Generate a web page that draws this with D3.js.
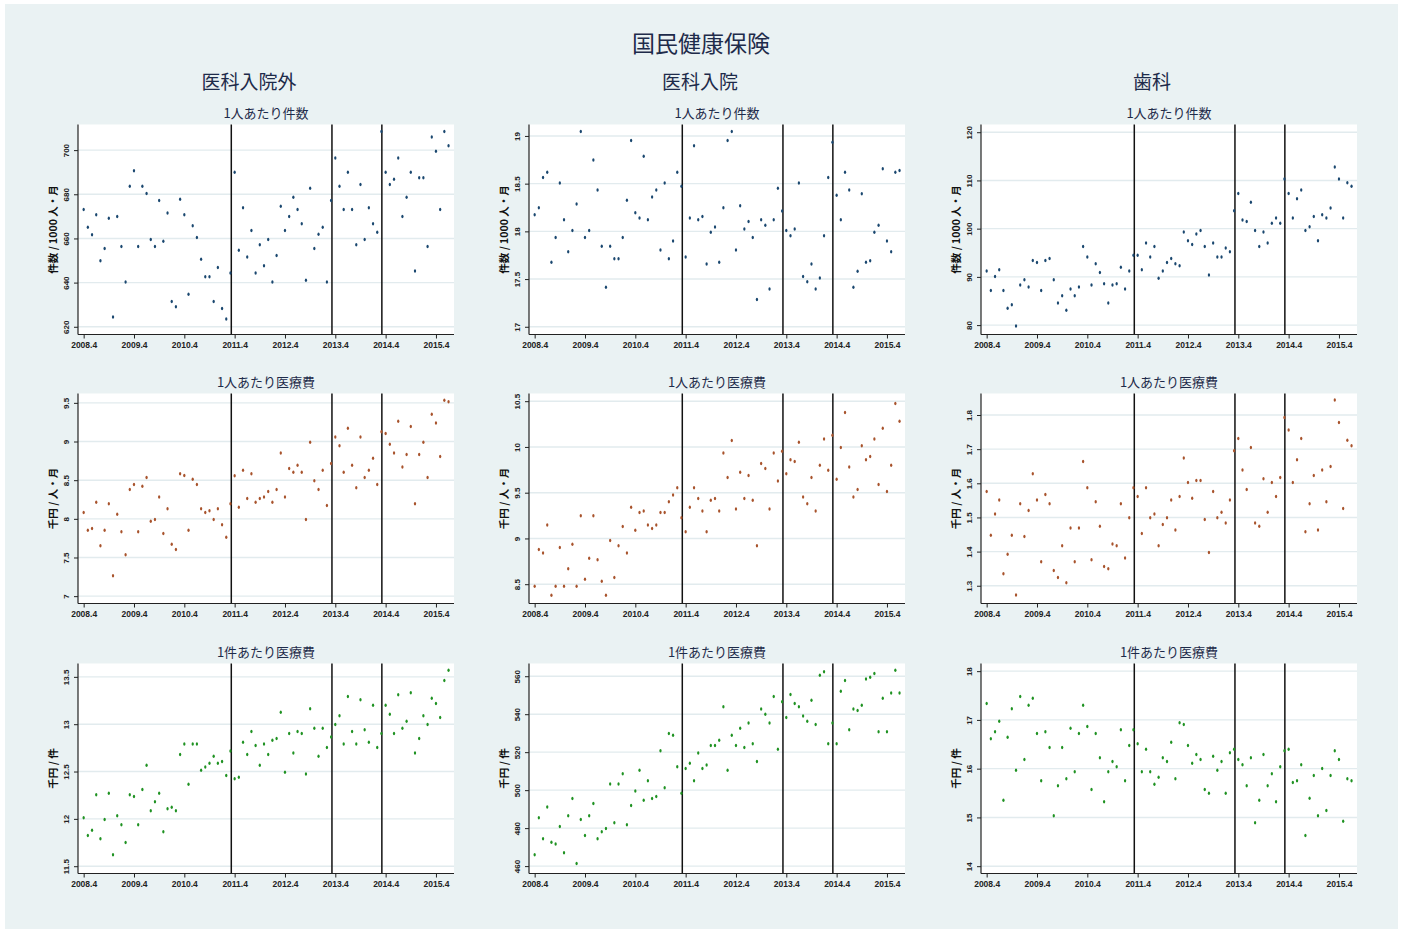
<!DOCTYPE html>
<html><head><meta charset="utf-8">
<script src="https://cdn.jsdelivr.net/npm/d3@7"></script>
<style>body{margin:0;background:#fff} svg{display:block}</style>
</head><body><svg id="c" width="1403" height="933"></svg>
<script>
const mainTitle = "国民健康保険";
const columns = ["医科入院外", "医科入院", "歯科"];
const rowTitles = ["1人あたり件数", "1人あたり医療費", "1件あたり医療費"];
const rowUnits = ["件数 / 1000 人・月", "千円 / 人・月", "千円 / 件"];
// monthly observations starting April 2008 (month index 0 = 2008.4)
const xTickMonths = [0, 12, 24, 36, 48, 60, 72, 84];
const xTickLabels = ["2008.4", "2009.4", "2010.4", "2011.4", "2012.4", "2013.4", "2014.4", "2015.4"];
const eventMonths = [35.2, 59.2, 71.1];

const outpatientCount = [673.1,665.1,661.7,670.7,649.9,655.5,669.2,624.4,669.9,656.3,
640.3,683.6,690.7,656.4,683.6,680.3,659.5,656.4,677.2,658.7,
671.5,631.5,629.1,677.8,670.7,634.7,665.8,660.4,650.6,642.7,
642.7,631.5,646.8,628.3,623.5,644.3,690.0,654.7,673.9,651.6,
663.6,644.3,657.2,647.6,659.5,640.3,652.3,674.6,663.6,669.9,
678.7,673.1,666.7,641.1,682.7,655.5,661.9,665.1,640.3,677.2,
696.4,683.6,673.1,690.0,673.1,657.2,684.4,659.5,673.9,666.7,
662.8,708.4,690.0,684.4,686.8,696.4,669.9,678.7,690.0,645.2,
687.5,687.5,656.4,705.9,699.5,673.1,708.4,702.0];
const inpatientCount = [18.174,18.248,18.564,18.620,17.675,17.935,18.508,18.121,17.787,18.009,
18.286,19.046,17.935,18.009,18.747,18.434,17.844,17.415,17.844,17.714,
17.714,17.935,18.325,18.951,18.195,18.139,18.786,18.121,18.360,18.434,
17.805,18.508,17.714,17.900,18.620,18.473,17.731,18.139,18.898,18.121,
18.156,17.657,17.991,18.047,17.675,18.248,18.951,19.046,17.805,18.269,
18.026,18.104,17.935,17.285,18.121,18.065,17.397,18.121,18.452,18.213,
18.009,17.953,18.026,18.508,17.527,17.471,17.657,17.397,17.510,17.953,
18.564,18.933,18.378,18.121,18.620,18.434,17.415,17.583,18.395,17.675,
17.692,17.991,18.065,18.656,17.900,17.787,18.620,18.638];
const dentalCount = [91.2,87.2,90.1,91.5,87.2,83.5,84.2,79.8,88.3,89.4,
87.9,93.4,93.0,87.2,93.4,93.8,89.4,84.6,86.1,83.1,
87.5,86.1,87.9,96.3,94.1,88.3,92.7,90.9,88.6,84.6,
88.3,88.6,92.0,87.5,91.2,94.5,94.5,91.5,97.0,94.1,
96.3,89.7,91.2,93.0,93.8,92.7,92.3,99.3,97.5,96.7,
98.9,99.6,96.3,90.4,97.0,94.1,94.1,96.0,95.2,103.7,
107.3,101.8,101.5,105.5,99.6,96.3,99.3,97.0,101.1,102.2,
101.1,110.3,107.3,102.2,106.2,108.0,99.6,100.4,102.5,97.5,
102.9,102.2,104.3,112.8,110.3,102.2,109.5,108.8];
const outpatientCost = [8.082,7.853,7.875,8.216,7.651,7.853,8.194,7.263,8.060,7.832,
7.534,8.379,8.444,7.832,8.422,8.534,7.970,7.991,8.284,7.810,
8.129,7.672,7.603,8.582,8.560,7.853,8.513,8.444,8.129,8.082,
8.103,7.991,8.129,7.922,7.763,8.194,8.556,8.151,8.629,8.263,
8.582,8.216,8.263,8.284,8.353,8.216,8.379,8.853,8.284,8.651,
8.603,8.694,8.603,7.991,8.991,8.491,8.379,8.629,8.172,8.716,
9.060,8.944,8.603,9.172,8.694,8.401,9.060,8.534,8.629,8.784,
8.444,9.125,9.103,8.966,8.853,9.263,8.672,8.832,9.194,8.194,
8.832,8.991,8.534,9.353,9.241,8.806,9.534,9.513];
const inpatientCost = [8.478,8.879,8.842,9.148,8.380,8.478,8.901,8.478,8.668,8.937,
8.478,9.247,8.555,8.784,9.247,8.766,8.533,8.380,8.977,8.573,
8.919,9.130,8.842,9.342,9.090,9.283,9.301,9.148,9.108,9.148,
9.283,9.283,9.400,9.476,9.553,9.225,9.072,9.342,9.553,9.436,
9.301,9.072,9.418,9.436,9.301,9.935,9.666,10.070,9.323,9.724,
9.436,9.688,9.418,8.919,9.819,9.764,9.323,9.935,9.629,9.954,
9.706,9.859,9.841,10.052,9.454,9.378,9.666,9.301,9.801,10.088,
9.746,10.128,9.648,9.994,10.376,9.782,9.454,9.535,10.012,9.859,
9.895,10.088,9.589,10.205,9.513,9.801,10.474,10.281];
const dentalCost = [1.576,1.448,1.510,1.551,1.335,1.392,1.448,1.273,1.540,1.444,
1.520,1.628,1.551,1.370,1.567,1.540,1.345,1.324,1.417,1.309,
1.469,1.370,1.469,1.664,1.587,1.376,1.546,1.474,1.356,1.350,
1.422,1.417,1.540,1.381,1.499,1.587,1.561,1.453,1.587,1.499,
1.510,1.417,1.479,1.499,1.551,1.463,1.561,1.674,1.602,1.556,
1.608,1.608,1.494,1.397,1.576,1.499,1.515,1.484,1.551,1.695,
1.731,1.639,1.582,1.705,1.484,1.474,1.613,1.515,1.602,1.561,
1.617,1.793,1.756,1.602,1.669,1.731,1.458,1.540,1.623,1.463,
1.639,1.546,1.649,1.844,1.778,1.526,1.726,1.710];
const outpatientPerClaim = [12.011,11.824,11.880,12.254,11.789,11.993,12.271,11.620,12.032,11.937,
11.750,12.254,12.236,11.937,12.310,12.567,12.085,12.180,12.271,11.863,
12.106,12.123,12.085,12.680,12.792,12.366,12.792,12.792,12.514,12.549,
12.588,12.662,12.588,12.606,12.458,12.718,12.423,12.440,12.810,12.680,
12.923,12.775,12.567,12.792,12.680,12.831,12.849,13.127,12.493,12.901,
12.697,12.923,12.901,12.475,13.162,12.958,12.662,12.958,12.754,12.866,
12.996,13.088,12.792,13.292,12.923,12.792,13.257,12.940,12.810,13.201,
12.754,12.901,13.201,13.106,12.901,13.310,12.958,13.032,13.331,12.697,
12.849,13.088,12.996,13.275,13.218,13.070,13.461,13.570];
const inpatientPerClaim = [466.0,485.4,474.4,491.1,472.6,471.6,480.9,467.0,486.5,495.6,
461.4,484.6,476.1,486.5,493.0,474.4,478.1,479.8,503.2,482.8,
503.2,508.6,481.8,491.9,499.5,510.5,494.7,504.9,495.6,496.7,
520.7,501.2,529.8,528.9,512.3,498.4,511.4,514.2,504.9,519.6,
511.4,513.3,523.5,523.5,526.3,543.9,510.5,528.9,523.5,532.6,
522.5,535.4,524.4,515.1,542.8,540.0,535.4,549.3,521.6,546.5,
538.2,550.4,545.6,543.9,539.1,536.3,547.4,534.6,560.5,562.3,
524.4,535.4,524.4,552.1,557.7,531.8,542.8,541.9,544.7,558.6,
559.5,561.4,530.7,548.4,530.7,551.2,563.2,551.2];
const dentalPerClaim = [17.337,16.612,16.756,16.974,15.354,16.646,17.227,15.969,17.480,16.188,
17.303,17.446,16.721,15.750,16.756,16.434,15.032,15.648,16.434,15.791,
16.831,15.935,16.721,17.303,16.865,15.573,16.721,16.222,15.320,15.935,
16.147,16.038,16.797,15.750,16.475,16.797,16.509,15.935,16.400,15.935,
15.682,15.826,16.222,16.147,16.544,15.791,16.940,16.906,16.475,16.113,
16.291,16.188,15.573,15.497,16.256,15.969,16.147,15.497,16.325,16.400,
16.188,16.079,15.648,16.222,14.889,15.354,16.291,15.648,15.894,15.320,
16.038,16.366,16.400,15.716,15.750,16.079,14.629,15.395,15.860,15.032,
16.003,15.142,15.860,16.366,16.188,14.923,15.791,15.750];

const seriesGrid = [
  [outpatientCount, inpatientCount, dentalCount],
  [outpatientCost, inpatientCost, dentalCost],
  [outpatientPerClaim, inpatientPerClaim, dentalPerClaim]
];
const yTicksGrid = [
  [[620,640,660,680,700], [17,17.5,18,18.5,19], [80,90,100,110,120]],
  [[7,7.5,8,8.5,9,9.5], [8.5,9,9.5,10,10.5], [1.3,1.4,1.5,1.6,1.7,1.8]],
  [[11.5,12,12.5,13,13.5], [460,480,500,520,540,560], [14,15,16,17,18]]
];
const yDomainGrid = [
  [[616.5,711.6], [16.919,19.12], [78.05,121.6]],
  [[6.905,9.621], [8.289,10.584], [1.248,1.863]],
  [[11.423,13.641], [456.1,566.7], [13.85,18.157]]
];
const rowColors = ["#1a476f", "#a8532c", "#1f9222"];

const svg = d3.select("#c");
const CJK = "'Noto Sans CJK JP', 'Noto Sans', sans-serif";
const NUM = "'Liberation Sans', Arial, sans-serif";
const titleColor = "#1e2b4a";

svg.append("rect").attr("x", 5).attr("y", 4).attr("width", 1393).attr("height", 925).attr("fill", "#eaf2f3");

svg.append("text").attr("x", 701).attr("y", 42).attr("text-anchor", "middle").attr("dominant-baseline", "central")
  .attr("font-family", CJK).attr("font-size", 23).attr("fill", titleColor).text(mainTitle);

const colLeft = [78, 529, 981];
const plotW = 376;
const rowTop = [124.5, 393.5, 663.5];
const plotH = 210;

columns.forEach((c, ci) => {
  svg.append("text").attr("x", colLeft[ci] + plotW / 2 - 17).attr("y", 80)
    .attr("text-anchor", "middle").attr("dominant-baseline", "central")
    .attr("font-family", CJK).attr("font-size", 19).attr("fill", titleColor).text(c);
});

for (let ri = 0; ri < 3; ri++) {
  for (let ci = 0; ci < 3; ci++) {
    const left = colLeft[ci], top = rowTop[ri], bottom = top + plotH;
    const data = seriesGrid[ri][ci];
    const x = d3.scaleLinear().domain([-1.35, 88.3]).range([left, left + plotW]);
    const y = d3.scaleLinear().domain(yDomainGrid[ri][ci]).range([bottom, top]);
    const g = svg.append("g");

    g.append("rect").attr("x", left).attr("y", top).attr("width", plotW).attr("height", plotH).attr("fill", "#fff");

    g.append("text").attr("x", left + plotW / 2).attr("y", top - 12)
      .attr("text-anchor", "middle").attr("dominant-baseline", "central")
      .attr("font-family", CJK).attr("font-size", 13).attr("fill", titleColor).text(rowTitles[ri]);

    g.selectAll("line.grid").data(yTicksGrid[ri][ci]).join("line")
      .attr("x1", left).attr("x2", left + plotW)
      .attr("y1", d => y(d)).attr("y2", d => y(d))
      .attr("stroke", "#e2ebee").attr("stroke-width", 1.4);

    g.selectAll("line.ev").data(eventMonths).join("line")
      .attr("x1", d => x(d)).attr("x2", d => x(d))
      .attr("y1", top).attr("y2", bottom)
      .attr("stroke", "#111").attr("stroke-width", 1.5);

    g.selectAll("ellipse").data(data).join("ellipse")
      .attr("cx", (d, i) => x(i)).attr("cy", d => y(d))
      .attr("rx", 1.15).attr("ry", 1.75).attr("fill", rowColors[ri]);

    const yAx = d3.axisLeft(y).tickValues(yTicksGrid[ri][ci]).tickSize(4).tickFormat(d => String(d));
    const ya = g.append("g").attr("transform", `translate(${left},0)`).call(yAx);
    ya.select(".domain").attr("stroke", "#222").attr("stroke-width", 1.2).attr("d", `M0,${top}V${bottom}`);
    ya.selectAll(".tick line").attr("stroke", "#222");
    ya.selectAll(".tick text")
      .attr("font-family", NUM).attr("font-size", 8).attr("font-weight", "bold").attr("fill", "#222")
      .attr("x", null).attr("dy", null)
      .attr("text-anchor", "middle").attr("dominant-baseline", "central")
      .attr("transform", "translate(-12,0) rotate(-90)");

    const xAx = d3.axisBottom(x).tickValues(xTickMonths).tickSize(4).tickFormat((d, i) => xTickLabels[i]);
    const xa = g.append("g").attr("transform", `translate(0,${bottom})`).call(xAx);
    xa.select(".domain").attr("stroke", "#222").attr("stroke-width", 1.2).attr("d", `M${left},0H${left + plotW}`);
    xa.selectAll(".tick line").attr("stroke", "#222");
    xa.selectAll(".tick text").attr("font-family", NUM).attr("font-size", 8.5).attr("font-weight", "bold").attr("fill", "#222").attr("y", 7);

    g.append("text").attr("transform", `translate(${left - 26},${(top + bottom) / 2}) rotate(-90)`)
      .attr("text-anchor", "middle").attr("dominant-baseline", "central")
      .attr("font-family", CJK).attr("font-size", 10.5).attr("font-weight", "bold").attr("fill", "#111").text(rowUnits[ri]);
  }
}
</script></body></html>
